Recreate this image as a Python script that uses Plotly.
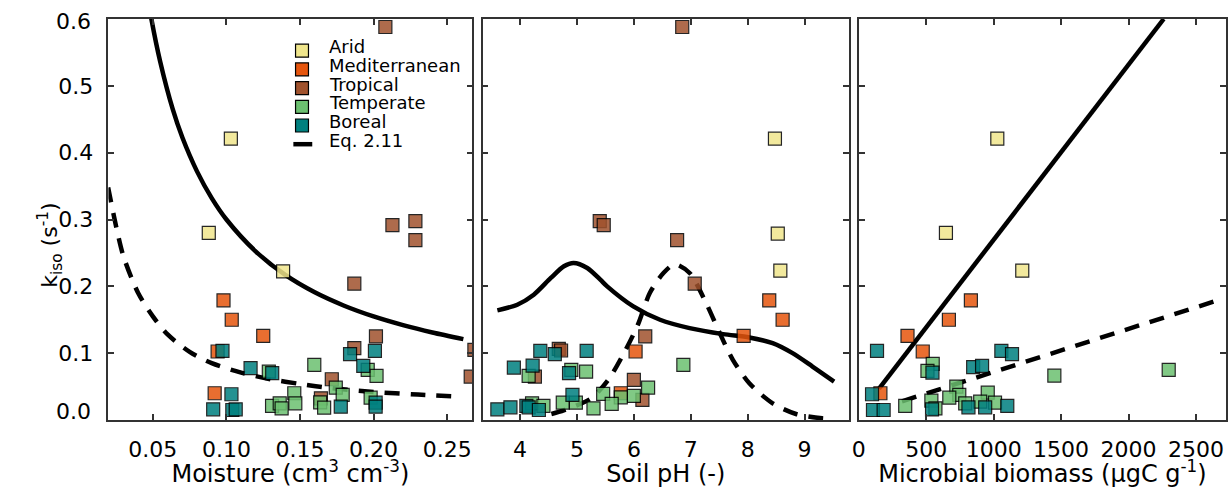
import plotly.graph_objects as go

# ---------------- data ----------------
categories = ["Arid", "Mediterranean", "Tropical", "Temperate", "Boreal"]
colors = ["#F0E68C", "#E6550D", "#A0522D", "#6CC070", "#00807F"]

# Panel 1: moisture (cm3 cm-3) vs k_iso
moist = {
    "Arid": [0.103, 0.088, 0.1385],
    "Mediterranean": [0.098, 0.1036, 0.125, 0.094, 0.092],
    "Tropical": [0.208, 0.2128, 0.2284, 0.2284, 0.1869, 0.2016, 0.2685, 0.266, 0.1869, 0.1716, 0.1642],
    "Temperate": [0.1597, 0.1288, 0.196, 0.202, 0.1743, 0.179, 0.198, 0.131, 0.1362, 0.1375, 0.1461, 0.1468, 0.1637, 0.1664],
    "Boreal": [0.0973, 0.1164, 0.1311, 0.184, 0.2009, 0.193, 0.1034, 0.091, 0.104, 0.1063, 0.1777, 0.2014, 0.2014],
}
k_moist = {
    "Arid": [0.421, 0.280, 0.2225],
    "Mediterranean": [0.179, 0.150, 0.126, 0.1025, 0.040],
    "Tropical": [0.588, 0.2915, 0.2975, 0.269, 0.204, 0.125, 0.105, 0.065, 0.1075, 0.061, 0.0325],
    "Temperate": [0.0825, 0.0725, 0.075, 0.066, 0.0485, 0.0375, 0.0335, 0.021, 0.025, 0.0175, 0.040, 0.025, 0.0265, 0.0185],
    "Boreal": [0.1035, 0.0775, 0.070, 0.0985, 0.1035, 0.081, 0.0385, 0.016, 0.015, 0.016, 0.020, 0.026, 0.020],
}

# Panel 2: soil pH vs k_iso
ph = {
    "Arid": [8.48, 8.53, 8.575],
    "Mediterranean": [8.38, 8.615, 7.93, 6.03, 5.77],
    "Tropical": [6.85, 5.40, 5.47, 6.76, 7.07, 6.2, 4.68, 4.72, 4.26, 6.0, 6.15],
    "Temperate": [6.87, 4.15, 4.9, 5.16, 6.25, 6.0, 5.46, 5.77, 5.61, 5.29, 4.75, 4.98, 4.21, 4.41],
    "Boreal": [4.355, 4.61, 5.17, 3.89, 4.22, 4.86, 4.92, 3.6, 3.83, 4.11, 4.15, 4.33],
}
k_ph = {
    "Arid": [0.421, 0.279, 0.2235],
    "Mediterranean": [0.179, 0.150, 0.126, 0.1025, 0.040],
    "Tropical": [0.588, 0.2975, 0.2915, 0.269, 0.204, 0.125, 0.1065, 0.104, 0.065, 0.060, 0.030],
    "Temperate": [0.0825, 0.066, 0.075, 0.0725, 0.0485, 0.036, 0.039, 0.034, 0.024, 0.0175, 0.026, 0.026, 0.025, 0.021],
    "Boreal": [0.1035, 0.0985, 0.1035, 0.0785, 0.0815, 0.070, 0.0375, 0.016, 0.019, 0.021, 0.019, 0.015],
}

# Panel 3: microbial biomass (ugC g-1) vs k_iso
biomass = {
    "Arid": [1027, 646, 1212],
    "Mediterranean": [831, 668, 361, 474, 160],
    "Tropical": [],
    "Temperate": [548, 509, 1450, 2298, 344, 538, 568, 723, 745, 671, 789, 956, 900, 1010],
    "Boreal": [135, 1057, 1136, 848, 914, 546, 98, 105, 184, 543, 813, 937, 1101],
}
k_biomass = {
    "Arid": [0.421, 0.280, 0.2235],
    "Mediterranean": [0.179, 0.150, 0.126, 0.1025, 0.040],
    "Tropical": [],
    "Temperate": [0.084, 0.0735, 0.0665, 0.075, 0.021, 0.029, 0.0175, 0.050, 0.0375, 0.0335, 0.025, 0.041, 0.0275, 0.026],
    "Boreal": [0.1035, 0.1035, 0.0985, 0.079, 0.081, 0.071, 0.0385, 0.015, 0.015, 0.016, 0.019, 0.019, 0.021],
}

# model curves
m_solid_x = [0.045, 0.049, 0.055, 0.0635, 0.07, 0.08, 0.09, 0.10, 0.12, 0.14, 0.16, 0.18, 0.20, 0.22, 0.24, 0.261]
m_solid_y = [0.652, 0.600, 0.536, 0.465, 0.423, 0.372, 0.332, 0.300, 0.252, 0.217, 0.191, 0.171, 0.155, 0.142, 0.131, 0.121]
m_dash_x = [0.0196, 0.025, 0.03, 0.04, 0.05, 0.06, 0.075, 0.09, 0.11, 0.13, 0.15, 0.17, 0.20, 0.23, 0.257]
m_dash_y = [0.348, 0.29, 0.245, 0.19, 0.155, 0.128, 0.102, 0.085, 0.071, 0.061, 0.054, 0.048, 0.042, 0.038, 0.035]

p_solid_x = [3.6, 3.95, 4.24, 4.54, 4.77, 4.94, 5.18, 5.41, 5.53, 5.99, 6.46, 6.98, 7.57, 8.03, 8.44, 8.79, 9.14, 9.52]
p_solid_y = [0.164, 0.1725, 0.1875, 0.2125, 0.230, 0.235, 0.2275, 0.210, 0.200, 0.170, 0.150, 0.1375, 0.1285, 0.1235, 0.115, 0.100, 0.080, 0.0575]
p_dash_x = [4.55, 4.68, 5.0, 5.26, 5.55, 5.84, 6.07, 6.28, 6.52, 6.72, 6.98, 7.27, 7.51, 7.74, 8.03, 8.44, 8.85, 9.31, 9.5]
p_dash_y = [0.009, 0.012, 0.022, 0.033, 0.060, 0.1025, 0.1425, 0.190, 0.220, 0.233, 0.220, 0.175, 0.130, 0.090, 0.055, 0.025, 0.009, 0.0025, 0.002]

b_solid_x = [150, 2261]
b_solid_y = [0.047, 0.600]
b_dash_x = [320, 2645]
b_dash_y = [0.028, 0.178]

y_ticks = [0.0, 0.1, 0.2, 0.3, 0.4, 0.5, 0.6]
y_ticktext = ["", "0.1", "0.2", "0.3", "0.4", "0.5", ""]

# ---------------- figure ----------------
W, H = 1229, 488
FONT = "DejaVu Sans, Liberation Sans, Arial, sans-serif"
AX = "#333333"
TICK_SIZE = 22
TITLE_SIZE = 24
LEG_SIZE = 18

fig = go.Figure()

panels = [
    ("x", "y", moist, k_moist, (m_solid_x, m_solid_y), (m_dash_x, m_dash_y)),
    ("x2", "y2", ph, k_ph, (p_solid_x, p_solid_y), (p_dash_x, p_dash_y)),
    ("x3", "y3", biomass, k_biomass, (b_solid_x, b_solid_y), (b_dash_x, b_dash_y)),
]

for xa, ya, xs, ks, solid, dash in panels:
    fig.add_trace(go.Scatter(x=solid[0], y=solid[1], xaxis=xa, yaxis=ya, mode="lines",
                             line=dict(color="black", width=4.5, shape="spline", smoothing=0.8),
                             showlegend=False, hoverinfo="skip"))
    fig.add_trace(go.Scatter(x=dash[0], y=dash[1], xaxis=xa, yaxis=ya, mode="lines",
                             line=dict(color="black", width=4.5, dash="15px,11px", shape="spline", smoothing=0.8),
                             showlegend=False, hoverinfo="skip"))
    for cat, col in zip(categories, colors):
        fig.add_trace(go.Scatter(x=xs[cat], y=ks[cat], xaxis=xa, yaxis=ya, mode="markers",
                                 marker=dict(symbol="square", size=13, color=col, opacity=0.85,
                                             line=dict(color="black", width=1.2)),
                                 cliponaxis=True, showlegend=False, name=cat))

def px(x):
    return x / W

def py(y):
    return 1 - y / H

ydom = [py(420), py(19)]
common_x = dict(showline=True, linecolor=AX, linewidth=1.5, mirror="ticks", ticks="inside",
                ticklen=6, tickwidth=1.5, tickcolor=AX, showgrid=False, zeroline=False,
                ticklabelstandoff=9,
                tickfont=dict(family=FONT, size=TICK_SIZE, color="black"))
common_y = dict(showline=True, linecolor=AX, linewidth=1.5, mirror="ticks", ticks="inside",
                ticklen=6, tickwidth=1.5, tickcolor=AX, showgrid=False, zeroline=False,
                range=[0, 0.6], tickvals=y_ticks, domain=ydom, ticklabelstandoff=9,
                tickfont=dict(family=FONT, size=TICK_SIZE, color="black"))
title_font = dict(family=FONT, size=TITLE_SIZE, color="black")

fig.update_layout(
    width=W, height=H, margin=dict(l=0, r=0, t=0, b=0),
    paper_bgcolor="white", plot_bgcolor="white", showlegend=False,
    font=dict(family=FONT, color="black"),
    xaxis=dict(common_x, domain=[px(102), px(468)], range=[0.0198, 0.2671], tick0=0.05, dtick=0.05,
               tickformat=".2f", anchor="y",
               title=dict(text="Moisture (cm<sup>3</sup> cm<sup>-3</sup>)", font=title_font, standoff=1)),
    xaxis2=dict(common_x, domain=[px(478.3), px(846.7)], range=[3.34, 9.78], tick0=4, dtick=1, anchor="y2",
                title=dict(text="Soil pH (-)", font=title_font, standoff=1)),
    xaxis3=dict(common_x, domain=[px(856.7), px(1226)], range=[0, 2723], tick0=0, dtick=500, anchor="y3",
                title=dict(text="Microbial biomass (\u03bcgC g<sup>-1</sup>)", font=title_font, standoff=1)),
    yaxis=dict(common_y, anchor="x", ticktext=y_ticktext),
    yaxis2=dict(common_y, anchor="x2", showticklabels=False),
    yaxis3=dict(common_y, anchor="x3", showticklabels=False),
)

annotations = []
# end tick labels of y axis (shifted inward as in the original)
annotations.append(dict(text="0.0", xref="paper", yref="y", x=px(86), y=0.0, xanchor="right",
                        yanchor="middle", yshift=9, showarrow=False,
                        font=dict(family=FONT, size=TICK_SIZE)))
annotations.append(dict(text="0.6", xref="paper", yref="y", x=px(86), y=0.6, xanchor="right",
                        yanchor="middle", yshift=-3, showarrow=False,
                        font=dict(family=FONT, size=TICK_SIZE)))
# y title
annotations.append(dict(text="k<sub>iso</sub> (s<sup>-1</sup>)", xref="paper", yref="paper",
                        x=px(25), y=py(245), textangle=-90, showarrow=False,
                        font=dict(family=FONT, size=TICK_SIZE)))

# manual legend inside panel 1
shapes = []
leg_rows = [50.7, 69.4, 88.1, 106.8, 125.5]
for cat, col, yy in zip(categories, colors, leg_rows):
    shapes.append(dict(type="rect", xref="paper", yref="paper",
                       x0=px(290.2), x1=px(303.2), y0=py(yy + 6.5), y1=py(yy - 6.5),
                       fillcolor=col, line=dict(color="black", width=1.2)))
    annotations.append(dict(text=cat, xref="paper", yref="paper", x=px(322), y=py(yy - 4),
                            xanchor="left", yanchor="middle", showarrow=False,
                            font=dict(family=FONT, size=LEG_SIZE)))
shapes.append(dict(type="line", xref="paper", yref="paper", x0=px(288), x1=px(307),
                   y0=py(144.2), y1=py(144.2), line=dict(color="black", width=4.5)))
annotations.append(dict(text="Eq. 2.11", xref="paper", yref="paper", x=px(322), y=py(140.2),
                        xanchor="left", yanchor="middle", showarrow=False,
                        font=dict(family=FONT, size=LEG_SIZE)))

fig.update_layout(annotations=annotations, shapes=shapes)

fig.write_html("out.html")
